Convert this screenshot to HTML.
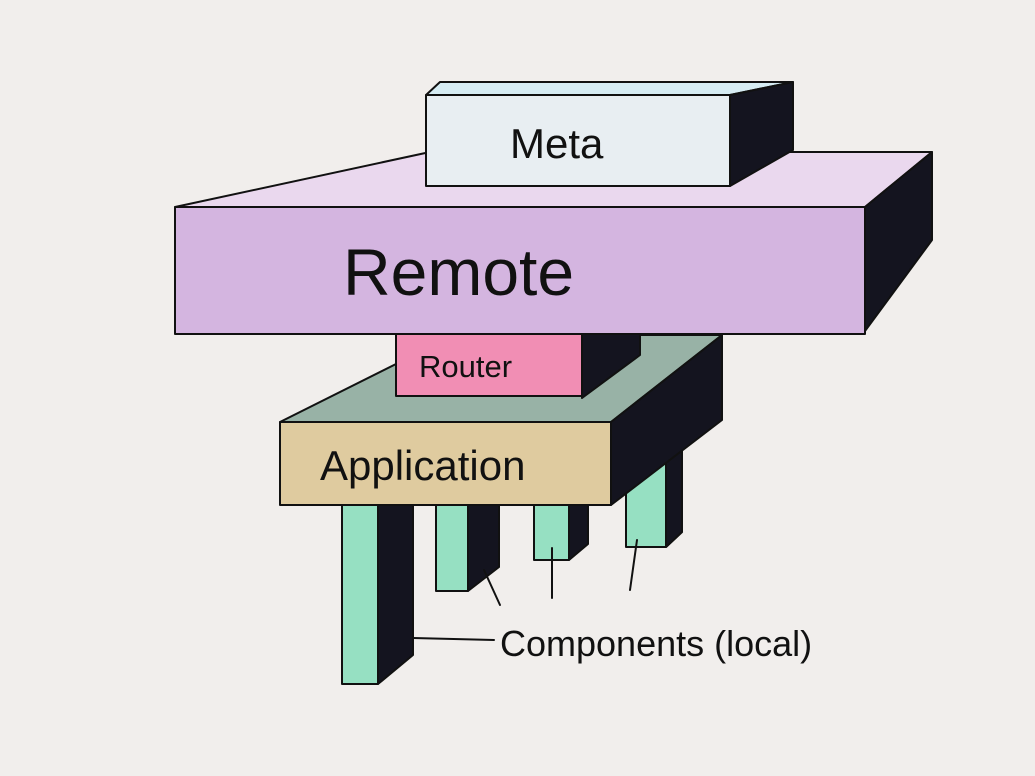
<!DOCTYPE html>
<html><head><style>html,body{margin:0;padding:0;background:#f1eeec;}svg{display:block}
text{font-family:"Liberation Sans",sans-serif;fill:#111;}</style></head><body>
<svg width="1035" height="776" viewBox="0 0 1035 776" xmlns="http://www.w3.org/2000/svg">
<rect width="1035" height="776" fill="#f1eeec"/>
<g stroke="#111" stroke-width="2" stroke-linejoin="round">
<!-- Legs -->
<polygon points="626,453 666,435 682,435 682,532 666,547 626,547" fill="#96e0c2"/>
<polygon points="666,435 682,435 682,532 666,547" fill="#14141f"/>
<rect x="342" y="505" width="36" height="179" fill="#96e0c2"/>
<polygon points="378,505 413,505 413,655 378,684" fill="#14141f"/>
<rect x="436" y="505" width="32" height="86" fill="#96e0c2"/>
<polygon points="468,505 499,505 499,567 468,591" fill="#14141f"/>
<rect x="534" y="505" width="35" height="55" fill="#96e0c2"/>
<polygon points="569,505 588,505 588,544 569,560" fill="#14141f"/>
<!-- Application -->
<polygon points="280,422 400,362 640,335 722,335 611,422" fill="#98b2a6"/>
<polygon points="611,422 722,335 722,420 611,505" fill="#14141f"/>
<rect x="280" y="422" width="331" height="83" fill="#dfcb9f"/>
<!-- Router -->
<rect x="396" y="334" width="186" height="62" fill="#f18eb4"/>
<polygon points="582,334 640,334 640,355 582,398" fill="#14141f"/>
<!-- Remote -->
<polygon points="175,207 430,152 932,152 865,207" fill="#ead8ee"/>
<polygon points="865,207 932,152 932,240 865,331" fill="#14141f"/>
<rect x="175" y="207" width="690" height="127" fill="#d4b5e0"/>
<!-- Meta -->
<polygon points="426,95 440,82 793,82 730,95" fill="#d6ecf3"/>
<polygon points="730,95 793,82 793,150 730,186" fill="#14141f"/>
<rect x="426" y="95" width="304" height="91" fill="#e8eef2"/>
</g>
<g stroke="#111" stroke-width="2" fill="none" stroke-linecap="round">
<line x1="413" y1="638" x2="494" y2="640"/>
<line x1="484" y1="570" x2="500" y2="605"/>
<line x1="552" y1="548" x2="552" y2="598"/>
<line x1="637" y1="540" x2="630" y2="590"/>
</g>
<text x="510" y="158" font-size="42">Meta</text>
<text x="343" y="295" font-size="66">Remote</text>
<text x="419" y="377" font-size="31">Router</text>
<text x="320" y="480" font-size="42">Application</text>
<text x="500" y="656" font-size="36">Components (local)</text>
</svg>
</body></html>
